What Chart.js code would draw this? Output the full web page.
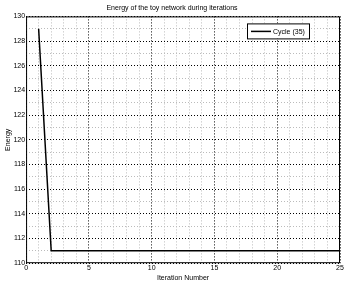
<!DOCTYPE html>
<html>
<head>
    <meta charset="utf-8" />
    <style>
        html, body { margin: 0; padding: 0; background: #fff; }
        #wrap { width: 346px; height: 282px; }
    </style>
    <script src="https://cdn.jsdelivr.net/npm/chart.js"></script>
</head>
<body>
<div id="wrap"><canvas id="myChart" width="346" height="282"></canvas></div>
<script>
let iterations = [1, 2, 3, 4, 5, 6, 7, 8, 9, 10, 11, 12, 13, 14, 15, 16, 17, 18, 19, 20, 21, 22, 23, 24, 25];
let energy = [129, 111, 111, 111, 111, 111, 111, 111, 111, 111, 111, 111, 111, 111, 111, 111, 111, 111, 111, 111, 111, 111, 111, 111, 111];
let seriesName = 'Cycle (35)';
let chartTitle = 'Energy of the toy network during iterations';
let xTitle = 'Iteration Number';
let yTitle = 'Energy';

let font = { family: 'Liberation Sans, Arial, sans-serif', size: 7, weight: 'normal' };

// box round the plot + legend in the top right corner
let boxPlugin = {
    id: 'box',
    afterDraw(chart) {
        let c = chart.ctx, a = chart.chartArea;
        c.save();
        c.strokeStyle = '#000';
        c.lineWidth = 1;
        c.strokeRect(a.left + 0.5, a.top + 0.5, a.right - a.left - 1, a.bottom - a.top - 1);
        // legend
        let w = 62, h = 15;
        let x = a.right - 93, y = a.top + 7;
        c.fillStyle = '#fff';
        c.fillRect(x, y, w, h);
        c.strokeRect(x + 0.5, y + 0.5, w, h);
        c.lineWidth = 1.5;
        c.beginPath();
        c.moveTo(x + 4, y + h / 2 + 0.5);
        c.lineTo(x + 24, y + h / 2 + 0.5);
        c.stroke();
        c.fillStyle = '#000';
        c.font = '7px ' + font.family;
        c.textBaseline = 'middle';
        c.fillText(seriesName, x + 26, y + h / 2 + 1);
        c.restore();
    }
};

let ctx = document.getElementById('myChart').getContext('2d');
let myChart = new Chart(ctx, {
    type: 'line',
    data: {
        datasets: [{
            label: seriesName,
            data: iterations.map((x, i) => ({ x: x, y: energy[i] })),
            borderColor: '#000',
            borderWidth: 1.5,
            pointRadius: 0,
            tension: 0
        }]
    },
    options: {
        responsive: false,
        animation: false,
        layout: { padding: { top: 2, right: 6, left: 4, bottom: 0 } },
        plugins: {
            legend: { display: false },
            tooltip: { enabled: false },
            title: {
                display: true,
                text: chartTitle,
                color: '#000',
                font: font,
                padding: { top: 2, bottom: 4 }
            }
        },
        scales: {
            x: {
                type: 'linear',
                min: 0,
                max: 25,
                ticks: {
                    stepSize: 1,
                    autoSkip: false,
                    maxRotation: 0,
                    color: '#000',
                    font: font,
                    padding: 1,
                    callback: v => v % 5 === 0 ? v : ''
                },
                grid: {
                    color: c => c.tick && c.tick.value % 5 === 0 ? '#000' : '#bbb',
                    tickLength: 0,
                    lineWidth: 1
                },
                border: { display: false, dash: [1, 2] },
                title: { display: true, text: xTitle, color: '#000', font: font, padding: 0 }
            },
            y: {
                min: 110,
                max: 130,
                ticks: {
                    stepSize: 1,
                    autoSkip: false,
                    color: '#000',
                    font: font,
                    padding: 1,
                    callback: v => v % 2 === 0 ? v : ''
                },
                grid: {
                    color: c => c.tick && c.tick.value % 2 === 0 ? '#000' : '#bbb',
                    tickLength: 0,
                    lineWidth: 1
                },
                border: { display: false, dash: [1, 2] },
                title: { display: true, text: yTitle, color: '#000', font: font, padding: 0 }
            }
        }
    },
    plugins: [boxPlugin]
});
</script>
</body>
</html>
